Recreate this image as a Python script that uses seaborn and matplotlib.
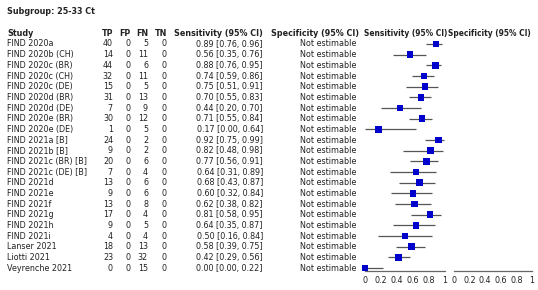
import matplotlib
matplotlib.use("Agg")
import matplotlib.pyplot as plt
import seaborn as sns
import pandas as pd

studies = ["FIND 2020a", "FIND 2020b (CH)", "FIND 2020c (BR)", "FIND 2020c (CH)",
           "FIND 2020c (DE)", "FIND 2020d (BR)", "FIND 2020d (DE)", "FIND 2020e (BR)",
           "FIND 2020e (DE)", "FIND 2021a [B]", "FIND 2021b [B]", "FIND 2021c (BR) [B]",
           "FIND 2021c (DE) [B]", "FIND 2021d", "FIND 2021e", "FIND 2021f", "FIND 2021g",
           "FIND 2021h", "FIND 2021i", "Lanser 2021", "Liotti 2021", "Veyrenche 2021"]
tp = [40, 14, 44, 32, 15, 31, 7, 30, 1, 24, 9, 20, 7, 13, 9, 13, 17, 9, 4, 18, 23, 0]
fp = [0] * 22
fn = [5, 11, 6, 11, 5, 13, 9, 12, 5, 2, 2, 6, 4, 6, 6, 8, 4, 5, 4, 13, 32, 15]
tn = [0] * 22
sens = [0.89, 0.56, 0.88, 0.74, 0.75, 0.70, 0.44, 0.71, 0.17, 0.92, 0.82, 0.77, 0.64,
        0.68, 0.60, 0.62, 0.81, 0.64, 0.50, 0.58, 0.42, 0.00]
sens_lo = [0.76, 0.35, 0.76, 0.59, 0.51, 0.55, 0.20, 0.55, 0.00, 0.75, 0.48, 0.56, 0.31,
           0.43, 0.32, 0.38, 0.58, 0.35, 0.16, 0.39, 0.29, 0.00]
sens_hi = [0.96, 0.76, 0.95, 0.86, 0.91, 0.83, 0.70, 0.84, 0.64, 0.99, 0.98, 0.91, 0.89,
           0.87, 0.84, 0.82, 0.95, 0.87, 0.84, 0.75, 0.56, 0.22]
spec_text = "Not estimable"
ticks = [0, 0.2, 0.4, 0.6, 0.8, 1]
tick_labels = ["0", "0.2", "0.4", "0.6", "0.8", "1"]

sns.set_theme(style="white")
plt.rcParams['font.family'] = ['DejaVu Sans']

W, H = 538, 290
fig = plt.figure(figsize=(W / 100, H / 100), dpi=100)
fig.patch.set_facecolor("white")

FS = 5.8
TC = "#222222"

def t(x, y, s, ha="left", bold=False, fs=FS):
    fig.text(x / W, 1 - y / H, s, ha=ha, va="center", fontsize=fs, color=TC,
             fontweight="bold" if bold else "normal")

t(7, 12, "Subgroup: 25-33 Ct", bold=True)
hy = 33
t(7, hy, "Study", bold=True)
t(113, hy, "TP", ha="right", bold=True)
t(131, hy, "FP", ha="right", bold=True)
t(148, hy, "FN", ha="right", bold=True)
t(167, hy, "TN", ha="right", bold=True)
t(263, hy, "Sensitivity (95% CI)", ha="right", bold=True)
t(271, hy, "Specificity (95% CI)", bold=True)
t(364, hy, "Sensitivity (95% CI)", bold=True, fs=5.45)
t(448, hy, "Specificity (95% CI)", bold=True, fs=5.45)

y0, dy = 44, 10.667
for i, name in enumerate(studies):
    y = y0 + i * dy
    t(7, y, name)
    t(113, y, str(tp[i]), ha="right")
    t(131, y, str(fp[i]), ha="right")
    t(148, y, str(fn[i]), ha="right")
    t(167, y, str(tn[i]), ha="right")
    t(263, y, f"{sens[i]:.2f} [{sens_lo[i]:.2f}, {sens_hi[i]:.2f}]", ha="right")
    t(300, y, spec_text)

axis_y = 271
top_y = 36
ylim_bottom = (axis_y - y0) / dy
ylim_top = (top_y - y0) / dy

def make_ax(x0, x1):
    ax = fig.add_axes([x0 / W, 1 - axis_y / H, (x1 - x0) / W, (axis_y - top_y) / H])
    ax.set_xlim(0, 1)
    ax.set_ylim(ylim_bottom, ylim_top)
    ax.patch.set_alpha(0)
    for s in ["top", "left", "right"]:
        ax.spines[s].set_visible(False)
    ax.spines["bottom"].set_color("#666666")
    ax.spines["bottom"].set_linewidth(0.9)
    ax.set_xticks(ticks)
    ax.set_xticklabels(tick_labels)
    ax.tick_params(axis="x", direction="inout", length=5, width=0.8, color="#666666",
                   labelsize=FS, labelcolor=TC, pad=1)
    ax.set_yticks([])
    ax.set_xlabel("")
    ax.set_ylabel("")
    return ax

ax1 = make_ax(365, 445)
df = pd.DataFrame({"row": list(range(len(studies))), "sens": sens,
                   "lo": sens_lo, "hi": sens_hi})
ax1.hlines(df["row"], df["lo"], df["hi"], color="#555555", linewidth=0.9, zorder=1)
sns.scatterplot(data=df, x="sens", y="row", marker="s", s=22, color="#0000CC",
                edgecolor="none", ax=ax1, zorder=3, clip_on=False, legend=False)
ax1.set_xlabel("")
ax1.set_ylabel("")

ax2 = make_ax(454, 532)

fig.savefig("out.png", dpi=100, facecolor="white")
